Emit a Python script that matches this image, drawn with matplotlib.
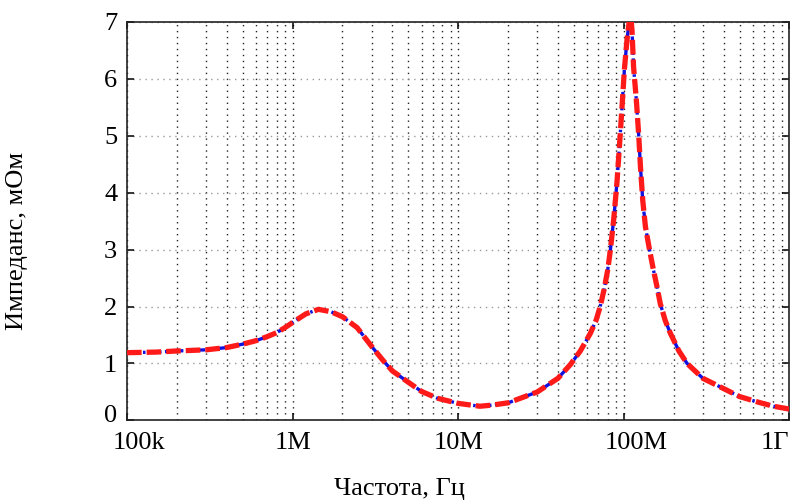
import numpy as np
import matplotlib
matplotlib.use("Agg")
import matplotlib.pyplot as plt
import matplotlib.ticker as mtick
import matplotlib.transforms as mtransforms

freq_hz = [
    1.0e5, 1.5e5, 2.0e5, 3.0e5, 4.0e5, 5.0e5, 6.0e5, 7.0e5, 8.0e5, 9.0e5,
    1.0e6, 1.2e6, 1.43e6, 1.7e6, 2.0e6, 2.45e6, 3.0e6, 3.5e6, 4.0e6, 5.0e6,
    6.0e6, 7.5e6, 1.0e7, 1.35e7, 1.6e7, 2.0e7, 3.0e7, 4.0e7, 4.75e7, 5.46e7,
    6.28e7, 6.8e7, 7.2e7, 7.6e7, 8.0e7, 8.3e7, 8.7e7, 9.1e7, 9.4e7, 9.75e7,
    1.007e8, 1.045e8, 1.08e8, 1.1e8, 1.12e8, 1.145e8, 1.19e8, 1.23e8, 1.26e8, 1.3e8,
    1.35e8, 1.43e8, 1.5e8, 1.59e8, 1.66e8, 1.78e8, 1.91e8, 2.15e8, 2.41e8, 3.0e8,
    4.0e8, 5.0e8, 6.5e8, 8.0e8, 1.0e9,
]

z_red = [
    1.19, 1.20, 1.22, 1.24, 1.28, 1.34, 1.40, 1.47, 1.54, 1.63,
    1.72, 1.87, 1.95, 1.91, 1.82, 1.63, 1.30, 1.06, 0.87, 0.67,
    0.51, 0.39, 0.30, 0.25, 0.27, 0.31, 0.50, 0.74, 0.98, 1.22,
    1.53, 1.76, 2.00, 2.30, 2.65, 3.00, 3.55, 4.20, 4.80, 5.50,
    6.15, 6.68, 7.02, 7.10, 6.85, 6.20, 5.62, 5.00, 4.45, 3.87,
    3.40, 2.99, 2.68, 2.33, 2.05, 1.75, 1.53, 1.22, 1.00, 0.74,
    0.56, 0.42, 0.32, 0.25, 0.20,
]

z_blue = list(z_red)

x_ticks = [1e5, 1e6, 1e7, 1e8, 1e9]
x_tick_labels = ["100k", "1M", "10M", "100M", "1Г"]
y_ticks = [0, 1, 2, 3, 4, 5, 6, 7]

plt.rcParams["font.family"] = ["Liberation Serif", "DejaVu Serif"]
plt.rcParams["lines.scale_dashes"] = False

fig = plt.figure(figsize=(7.9, 5.01), dpi=100)
ax = fig.add_axes([0.1608, 0.1607, 0.8385, 0.7963])

ax.plot(freq_hz, z_blue, color="#1010e0", linewidth=2.4,
        linestyle=(0, (9, 2.5, 1.8, 2.5)), dash_capstyle="butt", zorder=3)
ax.plot(freq_hz, z_red, color="#ff1a1a", linewidth=3.8,
        linestyle=(0, (10.5, 3.6)), dash_capstyle="butt", zorder=4)

ax.set_xscale("log")
ax.set_xlim(1e5, 1e9)
ax.set_ylim(0, 7)

ax.set_xticks(x_ticks)
ax.set_xticklabels(x_tick_labels)
ax.xaxis.set_minor_locator(mtick.LogLocator(base=10, subs=np.arange(2, 10)))
ax.xaxis.set_minor_formatter(mtick.NullFormatter())
ax.set_yticks(y_ticks)

ax.grid(True, axis="x", which="both", color="#222222", linewidth=1.0,
        linestyle=(0, (1, 3.3)))
ax.grid(True, axis="y", which="major", color="#999999", linewidth=1.0,
        linestyle=(0, (1, 3.3)))

ax.tick_params(axis="both", which="major", direction="in", length=5, width=1.1,
               top=True, right=True, labelsize=19, colors="black")
ax.tick_params(axis="y", pad=7)
ax.tick_params(axis="x", pad=8)
ax.tick_params(axis="x", which="minor", direction="in", length=0, top=True)

for side in ["top", "right", "bottom", "left"]:
    ax.spines[side].set_linewidth(1.2)
    ax.spines[side].set_color("#222222")

# nudge a few tick labels like the original layout
xlabels = ax.get_xticklabels()
xlabels[0].set_transform(xlabels[0].get_transform() + mtransforms.ScaledTranslation(12 / 100, 0, fig.dpi_scale_trans))
xlabels[3].set_transform(xlabels[3].get_transform() + mtransforms.ScaledTranslation(12 / 100, 0, fig.dpi_scale_trans))
xlabels[-1].set_horizontalalignment("right")
ylabels = ax.get_yticklabels()
ylabels[0].set_transform(ylabels[0].get_transform() + mtransforms.ScaledTranslation(0, 7 / 100, fig.dpi_scale_trans))

fig.text(399 / 790, 1 - 489 / 501, "Частота, Гц", fontsize=19, ha="center", va="center")
fig.text(17 / 790, 1 - 241 / 501, "Импеданс, мОм", fontsize=19, ha="center", va="center",
         rotation=90)

fig.savefig("out.png", dpi=100)
